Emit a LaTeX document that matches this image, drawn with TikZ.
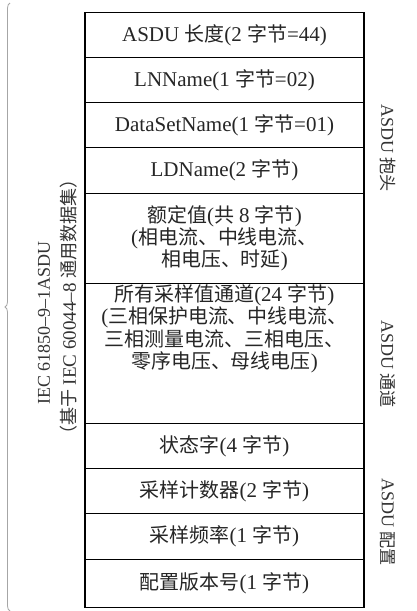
\documentclass[tikz,border=0pt]{standalone}
\usepackage{fontspec}
\setmainfont{Liberation Serif}
\newfontfamily\cjk[Scale=0.95]{Noto Sans CJK SC}
\newcommand\zh[1]{{\cjk #1}}
\usetikzlibrary{decorations.pathreplacing}
\begin{document}
\begin{tikzpicture}[x=1pt,y=-1pt,
  cell/.style={draw=black,line width=1.3pt,minimum width=279pt,inner sep=0pt,anchor=north,
    text=black!85,align=center,font=\fontsize{21}{22}\selectfont},
  side/.style={text=black!80,font=\fontsize{18}{20}\selectfont,inner sep=0pt},
  brace/.style={draw=black!35,line width=0.8pt,decorate,decoration={brace,amplitude=5pt,aspect=0.5}}]
\useasboundingbox (0,0) rectangle (416,611);
\fill[white] (0,0) rectangle (416,611);
\node[cell,minimum height=45pt] (c1) at (224.5,12) {ASDU \zh{长度}(2 \zh{字节}=44)};
\node[cell,minimum height=45pt] (c2) at (224.5,57) {LNName(1 \zh{字节}=02)};
\node[cell,minimum height=45pt] (c3) at (224.5,102) {DataSetName(1 \zh{字节}=01)};
\node[cell,minimum height=46pt] (c4) at (224.5,147) {LDName(2 \zh{字节})};
\node[cell,minimum height=90pt] (c5) at (224.5,193) {\zh{额定值}(\zh{共} 8 \zh{字节})\\(\zh{相电流、中线电流、}\\\zh{相电压、时延})};
\node[cell,minimum height=140pt] (c6) at (224.5,283) {};
\node[side,text=black!85,align=center,font=\fontsize{21}{22.5}\selectfont] (t6) at (224.5,329)
  {\zh{所有采样值通道}(24 \zh{字节})\\(\zh{三相保护电流、中线电流、}\\\zh{三相测量电流、三相电压、}\\\zh{零序电压、母线电压})};
\node[cell,minimum height=45pt] (c7) at (224.5,423) {\zh{状态字}(4 \zh{字节})};
\node[cell,minimum height=45pt] (c8) at (224.5,468) {\zh{采样计数器}(2 \zh{字节})};
\node[cell,minimum height=46pt] (c9) at (224.5,513) {\zh{采样频率}(1 \zh{字节})};
\node[cell,minimum height=48pt] (c10) at (224.5,559) {\zh{配置版本号}(1 \zh{字节})};
\node[side,rotate=-90] (r1) at (388,148) {ASDU \zh{抱头}};
\node[side,rotate=-90] (r2) at (388,364) {ASDU \zh{通道}};
\node[side,rotate=-90] (r3) at (388,522) {ASDU \zh{配置}};
\node[side,rotate=90] (l1) at (44,323) {IEC 61850–9–1ASDU};
\node[side,rotate=90,font=\fontsize{19}{20}\selectfont] (l2) at (69,307) {\zh{（基于} IEC 60044–8 \zh{通用数据集）}};
\coordinate (bb) at (10,611);
\coordinate (bt) at (10,3);
\draw[brace] (bb) -- (bt);
\end{tikzpicture}
\end{document}
